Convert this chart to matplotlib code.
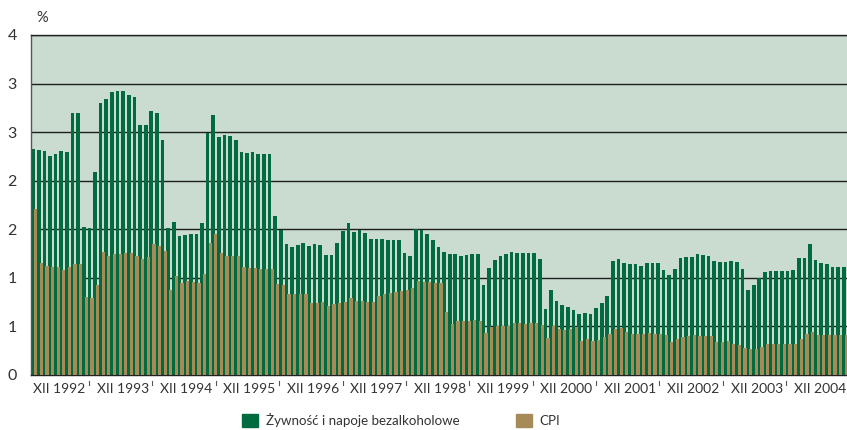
import matplotlib
matplotlib.use("Agg")
import matplotlib.pyplot as plt
from matplotlib.patches import Patch
from matplotlib.lines import Line2D
from matplotlib.transforms import blended_transform_factory

plt.rcParams["font.family"] = ["Lato", "DejaVu Sans"]

# dane (kolejne miesiące)
food = [
    2.33, 2.32, 2.31, 2.25, 2.28, 2.31, 2.30, 2.70, 2.70, 1.52, 1.51, 2.09,
    2.80, 2.84, 2.91, 2.92, 2.92, 2.88, 2.86, 2.57, 2.57, 2.72, 2.70, 2.42,
    1.51, 1.58, 1.43, 1.44, 1.45, 1.45, 1.56, 2.49, 2.68, 2.45, 2.47, 2.46,
    2.42, 2.30, 2.29, 2.30, 2.28, 2.28, 2.27, 1.64, 1.49, 1.35, 1.32, 1.34,
    1.36, 1.33, 1.35, 1.34, 1.24, 1.24, 1.36, 1.48, 1.56, 1.47, 1.49, 1.46,
    1.40, 1.40, 1.40, 1.39, 1.39, 1.39, 1.26, 1.22, 1.50, 1.49, 1.45, 1.39,
    1.32, 1.27, 1.25, 1.25, 1.23, 1.24, 1.25, 1.25, 0.93, 1.10, 1.18, 1.22,
    1.25, 1.27, 1.26, 1.26, 1.26, 1.26, 1.19, 0.68, 0.87, 0.76, 0.72, 0.70, 0.67,
    0.63, 0.64, 0.63, 0.69, 0.74, 0.81, 1.17, 1.19, 1.15, 1.14, 1.14, 1.12,
    1.15, 1.15, 1.15, 1.08, 1.03, 1.09, 1.20, 1.21, 1.21, 1.25, 1.24, 1.23,
    1.17, 1.16, 1.16, 1.17, 1.16, 1.09, 0.87, 0.93, 1.00, 1.06, 1.07, 1.07,
    1.07, 1.07, 1.08, 1.20, 1.20, 1.35, 1.18, 1.15, 1.14, 1.11, 1.11, 1.11,
]
cpi = [
    1.71, 1.15, 1.12, 1.11, 1.11, 1.08, 1.11, 1.14, 1.14, 0.80, 0.79, 0.93,
    1.27, 1.22, 1.25, 1.25, 1.26, 1.26, 1.22, 1.19, 1.21, 1.35, 1.33, 1.28,
    0.88, 1.02, 0.95, 0.97, 0.96, 0.95, 1.04, 1.36, 1.45, 1.26, 1.22, 1.23,
    1.23, 1.11, 1.10, 1.10, 1.09, 1.09, 1.09, 0.94, 0.93, 0.83, 0.83, 0.83,
    0.83, 0.74, 0.74, 0.75, 0.71, 0.73, 0.74, 0.75, 0.79, 0.76, 0.76, 0.75,
    0.75, 0.81, 0.83, 0.84, 0.85, 0.86, 0.87, 0.90, 0.97, 0.96, 0.96, 0.95,
    0.95, 0.65, 0.53, 0.56, 0.56, 0.56, 0.57, 0.56, 0.43, 0.49, 0.50, 0.50,
    0.50, 0.54, 0.54, 0.53, 0.54, 0.54, 0.51, 0.38, 0.50, 0.47, 0.46, 0.47, 0.49,
    0.35, 0.37, 0.35, 0.36, 0.39, 0.42, 0.47, 0.48, 0.44, 0.42, 0.42, 0.42,
    0.43, 0.42, 0.42, 0.41, 0.34, 0.37, 0.39, 0.40, 0.41, 0.40, 0.40, 0.40,
    0.34, 0.34, 0.35, 0.32, 0.31, 0.28, 0.27, 0.27, 0.29, 0.32, 0.32, 0.32,
    0.32, 0.32, 0.32, 0.37, 0.42, 0.44, 0.41, 0.41, 0.41, 0.41, 0.41, 0.41,
]
years = ["1992", "1993", "1994", "1995", "1996", "1997", "1998",
         "1999", "2000", "2001", "2002", "2003", "2004"]
ytick_vals = [0, 0.5, 1, 1.5, 2, 2.5, 3, 3.5]
ytick_labels = ["0", "1", "1", "2", "2", "3", "3", "4"]

GREEN = "#006b3f"
BROWN = "#a68b58"
BG = "#c9dccf"
TXT = "#333333"

fig = plt.figure(figsize=(8.47, 4.30), dpi=100)
ax = fig.add_axes([30.7 / 847, 1 - 375 / 430, 1 - 30.7 / 847, 340 / 430])
ax.set_facecolor(BG)

x = list(range(len(food)))
b1 = ax.bar(x, food, width=0.65, align="edge", color=GREEN, zorder=2)
b2 = ax.bar([i + 0.5 for i in x], cpi, width=0.57, align="edge", color=BROWN, zorder=3)

ax.set_xlim(-0.1, 144.9)
ax.set_ylim(0, 3.5)
ax.set_yticks(ytick_vals)
ax.set_yticklabels(ytick_labels)
ax.yaxis.grid(True, color="#1e1e1e", linewidth=1.0, zorder=1)
ax.set_axisbelow(True)
ax.tick_params(axis="y", length=0, pad=10, labelsize=11.5, labelcolor=TXT)

# etykiety lat co ~11.26 słupka
step = 11.26
ax.set_xticks([5.0 + k * step for k in range(len(years))])
ax.set_xticklabels(["XII " + y for y in years])
ax.tick_params(axis="x", length=0, pad=6, labelsize=10, labelcolor=TXT)

# drobne znaczniki pod osią
tr = blended_transform_factory(ax.transData, ax.transAxes)
for k in range(len(years)):
    xm = 10.25 + k * step
    ax.add_line(Line2D([xm, xm], [-0.018, -0.028], transform=tr,
                       color="#555555", linewidth=0.8, clip_on=False))

ax.spines["right"].set_visible(False)
ax.spines["top"].set_color("#222222")
ax.spines["bottom"].set_color("#222222")
ax.spines["left"].set_color("#555555")
for side in ["top", "bottom", "left"]:
    ax.spines[side].set_linewidth(1.0)

fig.text(42 / 847, 1 - 18.5 / 430, "%", ha="center", va="center",
         fontsize=10.5, color=TXT)

fig.legend([Patch(color=GREEN), Patch(color=BROWN)],
           ["Żywność i napoje bezalkoholowe", "CPI"],
           loc="lower left", bbox_to_anchor=(230 / 847, -0.022), ncol=2,
           frameon=False, fontsize=9.6, handlelength=1.2, handleheight=1.2,
           handletextpad=0.6, columnspacing=4.2, labelcolor=TXT)

fig.savefig("out.png", dpi=100)
